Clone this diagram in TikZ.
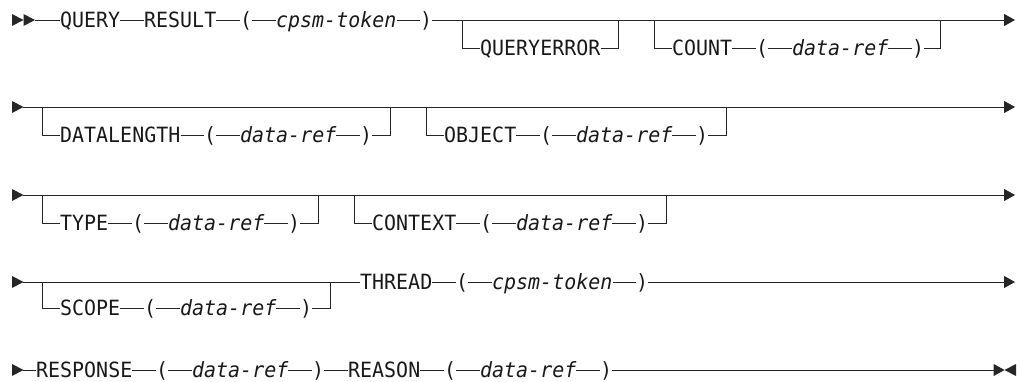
\documentclass[tikz,border=0pt]{standalone}
\usepackage{fontspec}
\newfontfamily\rrfont{DejaVu Sans Mono}[FakeStretch=0.95]
\usetikzlibrary{arrows.meta}

\begin{document}
\begin{tikzpicture}[x=1pt, y=-1pt,
  rail/.style={line width=1pt, draw=black!85},
  railend/.style={rail, -{Triangle[length=11pt,width=12pt]}},
  kw/.style={inner sep=0pt, anchor=west, text height=15.3pt, text depth=0pt,
    font=\rrfont\fontsize{21pt}{24pt}\selectfont, text=black!90},
  var/.style={kw, font=\rrfont\fontsize{21pt}{24pt}\selectfont\itshape}]
\useasboundingbox (0,0) rectangle (1021,381);
% row 1
\fill[black!85] (12,14) -- (23.5,20) -- (12,26) -- cycle;
\fill[black!85] (23.5,14) -- (35,20) -- (23.5,26) -- cycle;
\coordinate (s1) at (35,20);
\node[kw] (query) at (60,20) {QUERY};
\node[kw] (result) at (144,20) {RESULT};
\node[kw] (lp1) at (240,20) {(};
\node[var] (tok1) at (276,20) {cpsm-token};
\node[kw] (rp1) at (420,20) {)};
\coordinate (b1l) at (462,20);
\coordinate (b1r) at (618,20);
\node[kw] (qerr) at (480,48) {QUERYERROR};
\coordinate (b2l) at (654,20);
\coordinate (b2r) at (940,20);
\node[kw] (count) at (672,48) {COUNT};
\node[kw] (lp2) at (756,48) {(};
\node[var] (ref2) at (792,48) {data-ref};
\node[kw] (rp2) at (912,48) {)};
\coordinate (e1) at (1015,20);
\draw[rail] (s1) -- (query);
\draw[rail] (query) -- (result);
\draw[rail] (result) -- (lp1);
\draw[rail] (lp1) -- (tok1);
\draw[rail] (tok1) -- (rp1);
\draw[railend] (rp1) -- (e1);
\draw[rail] (b1l) |- (qerr);
\draw[rail] (qerr) -| (b1r);
\draw[rail] (b2l) |- (count);
\draw[rail] (count) -- (lp2);
\draw[rail] (lp2) -- (ref2);
\draw[rail] (ref2) -- (rp2);
\draw[rail] (rp2) -| (b2r);
% rows 2 to 5 start marks
\foreach \y in {107,195,282,370}
  \fill[black!85] (12,\y-6) -- (23.5,\y) -- (12,\y+6) -- cycle;
% row 2
\coordinate (s2) at (23,107);
\coordinate (e2) at (1015,107);
\draw[railend] (s2) -- (e2);
\coordinate (b3l) at (42,107);
\coordinate (b3r) at (390,107);
\node[kw] (dlen) at (60,135) {DATALENGTH};
\node[kw] (lp3) at (204,135) {(};
\node[var] (ref3) at (240,135) {data-ref};
\node[kw] (rp3) at (360,135) {)};
\draw[rail] (b3l) |- (dlen);
\draw[rail] (dlen) -- (lp3);
\draw[rail] (lp3) -- (ref3);
\draw[rail] (ref3) -- (rp3);
\draw[rail] (rp3) -| (b3r);
\coordinate (b4l) at (426,107);
\coordinate (b4r) at (726,107);
\node[kw] (object) at (444,135) {OBJECT};
\node[kw] (lp4) at (540,135) {(};
\node[var] (ref4) at (576,135) {data-ref};
\node[kw] (rp4) at (696,135) {)};
\draw[rail] (b4l) |- (object);
\draw[rail] (object) -- (lp4);
\draw[rail] (lp4) -- (ref4);
\draw[rail] (ref4) -- (rp4);
\draw[rail] (rp4) -| (b4r);
% row 3
\coordinate (s3) at (23,195);
\coordinate (e3) at (1015,195);
\draw[railend] (s3) -- (e3);
\coordinate (b5l) at (42,195);
\coordinate (b5r) at (318,195);
\node[kw] (type) at (60,223) {TYPE};
\node[kw] (lp5) at (132,223) {(};
\node[var] (ref5) at (168,223) {data-ref};
\node[kw] (rp5) at (288,223) {)};
\draw[rail] (b5l) |- (type);
\draw[rail] (type) -- (lp5);
\draw[rail] (lp5) -- (ref5);
\draw[rail] (ref5) -- (rp5);
\draw[rail] (rp5) -| (b5r);
\coordinate (b6l) at (354,195);
\coordinate (b6r) at (666,195);
\node[kw] (context) at (372,223) {CONTEXT};
\node[kw] (lp6) at (480,223) {(};
\node[var] (ref6) at (516,223) {data-ref};
\node[kw] (rp6) at (636,223) {)};
\draw[rail] (b6l) |- (context);
\draw[rail] (context) -- (lp6);
\draw[rail] (lp6) -- (ref6);
\draw[rail] (ref6) -- (rp6);
\draw[rail] (rp6) -| (b6r);
% row 4
\coordinate (s4) at (23,282);
\coordinate (b7l) at (42,282);
\coordinate (b7r) at (330,282);
\node[kw] (scope) at (60,308) {SCOPE};
\node[kw] (lp7) at (144,308) {(};
\node[var] (ref7) at (180,308) {data-ref};
\node[kw] (rp7) at (300,308) {)};
\node[kw] (thread) at (360,282) {THREAD};
\node[kw] (lp8) at (456,282) {(};
\node[var] (tok8) at (492,282) {cpsm-token};
\node[kw] (rp8) at (636,282) {)};
\coordinate (e4) at (1015,282);
\draw[rail] (s4) -- (thread);
\draw[rail] (b7l) |- (scope);
\draw[rail] (scope) -- (lp7);
\draw[rail] (lp7) -- (ref7);
\draw[rail] (ref7) -- (rp7);
\draw[rail] (rp7) -| (b7r);
\draw[rail] (thread) -- (lp8);
\draw[rail] (lp8) -- (tok8);
\draw[rail] (tok8) -- (rp8);
\draw[railend] (rp8) -- (e4);
% row 5
\coordinate (s5) at (23,370);
\node[kw] (response) at (36,370) {RESPONSE};
\node[kw] (lp9) at (156,370) {(};
\node[var] (ref9) at (192,370) {data-ref};
\node[kw] (rp9) at (312,370) {)};
\node[kw] (reason) at (348,370) {REASON};
\node[kw] (lp10) at (444,370) {(};
\node[var] (ref10) at (480,370) {data-ref};
\node[kw] (rp10) at (600,370) {)};
\coordinate (e5) at (1004.5,370);
\draw[rail] (s5) -- (response);
\draw[rail] (response) -- (lp9);
\draw[rail] (lp9) -- (ref9);
\draw[rail] (ref9) -- (rp9);
\draw[rail] (rp9) -- (reason);
\draw[rail] (reason) -- (lp10);
\draw[rail] (lp10) -- (ref10);
\draw[rail] (ref10) -- (rp10);
\draw[railend] (rp10) -- (e5);
\fill[black!85] (1016,364) -- (1004.5,370) -- (1016,376) -- cycle;
\end{tikzpicture}
\end{document}
